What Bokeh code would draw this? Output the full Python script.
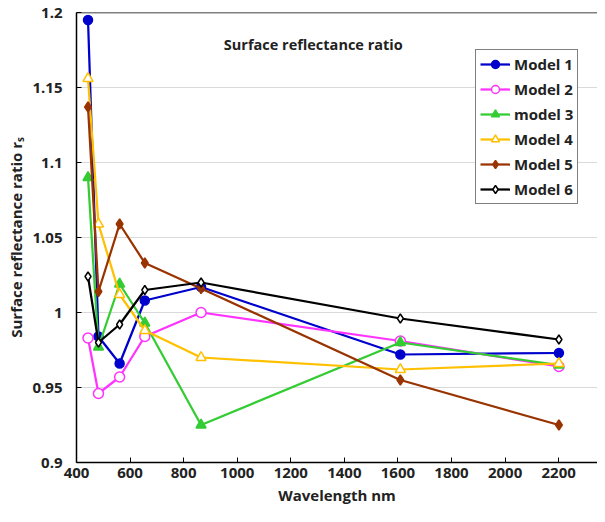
from bokeh.plotting import figure
from bokeh.models import Legend, LegendItem, FixedTicker, Span, Label, Range1d
from bokeh.embed import file_html
from bokeh.resources import INLINE

wavelength = [443, 482, 561, 655, 865, 1609, 2201]
model_1 = [1.195, 0.984, 0.966, 1.008, 1.017, 0.972, 0.973]
model_2 = [0.983, 0.946, 0.957, 0.984, 1.000, 0.981, 0.964]
model_3 = [1.090, 0.977, 1.019, 0.993, 0.925, 0.980, 0.965]
model_4 = [1.156, 1.059, 1.012, 0.988, 0.970, 0.962, 0.966]
model_5 = [1.137, 1.014, 1.059, 1.033, 1.016, 0.955, 0.925]
model_6 = [1.024, 0.980, 0.992, 1.015, 1.020, 0.996, 0.982]

series_names = ["Model 1", "Model 2", "model 3", "Model 4", "Model 5", "Model 6"]
series_values = [model_1, model_2, model_3, model_4, model_5, model_6]

x_ticks = [400, 600, 800, 1000, 1200, 1400, 1600, 1800, 2000, 2200]
y_ticks = [0.9, 0.95, 1.0, 1.05, 1.1, 1.15, 1.2]
y_tick_labels = ["0.9", "0.95", "1", "1.05", "1.1", "1.15", "1.2"]

FONT = "Open Sans"

styles = [
    dict(color="#0000CC", marker="circle", size=9, fill="#0000CC"),
    dict(color="#FF33FF", marker="circle", size=10, fill="white"),
    dict(color="#33CC33", marker="triangle", size=10, fill="#33CC33"),
    dict(color="#FFC000", marker="triangle", size=10, fill="white"),
    dict(color="#993300", marker="diamond", size=10, fill="#993300"),
    dict(color="#000000", marker="diamond", size=9, fill="white"),
]

p = figure(width=597, height=514, output_backend="svg", toolbar_location=None,
           x_range=Range1d(400, 2345), y_range=Range1d(0.9, 1.2),
           min_border_left=76, min_border_right=0, min_border_top=12, min_border_bottom=52)
p.outline_line_color = None
p.background_fill_color = "white"
p.xgrid.grid_line_color = None
p.ygrid.grid_line_color = "#D9D9D9"
p.ygrid.grid_line_width = 1

p.xaxis.ticker = FixedTicker(ticks=x_ticks)
p.yaxis.ticker = FixedTicker(ticks=y_ticks)
p.yaxis.major_label_overrides = {t: l for t, l in zip(y_ticks, y_tick_labels)}
for ax in (p.xaxis[0], p.yaxis[0]):
    ax.axis_line_color = "black"
    ax.axis_line_width = 1.5
    ax.major_tick_in = 5
    ax.major_tick_out = 0
    ax.minor_tick_line_color = None
    ax.major_tick_line_color = "black"
    ax.major_label_text_font = FONT
    ax.major_label_text_font_style = "bold"
    ax.major_label_text_font_size = "15px"
    ax.major_label_text_color = "#222222"
    ax.axis_label_text_font = FONT
    ax.axis_label_text_font_style = "bold"
    ax.axis_label_text_font_size = "15px"
    ax.axis_label_text_color = "#222222"
p.xaxis.axis_label = "Wavelength nm"
p.yaxis.axis_label = "Surface reflectance ratio rₛ"
p.xaxis.major_label_standoff = 5
p.yaxis.major_label_standoff = 14
p.xaxis.axis_label_standoff = 4
p.yaxis.axis_label_standoff = 3

p.add_layout(Span(location=1.2, dimension="width", line_color="black", line_width=1.5))

items = []
for name, vals, st in zip(series_names, series_values, styles):
    ln = p.line(wavelength, vals, line_color=st["color"], line_width=2.25)
    sc = p.scatter(wavelength, vals, marker=st["marker"], size=st["size"],
                   line_color=st["color"], fill_color=st["fill"], line_width=1.5)
    items.append(LegendItem(label=name, renderers=[ln, sc]))

legend = Legend(items=items, location=(399, 258))
legend.border_line_color = "black"
legend.border_line_width = 1
legend.label_text_font = FONT
legend.label_text_font_style = "bold"
legend.label_text_font_size = "15px"
legend.label_text_color = "#222222"
legend.glyph_width = 30
legend.glyph_height = 20
legend.label_height = 20
legend.spacing = 5
legend.padding = 4
legend.label_standoff = 4
legend.margin = 0
legend.background_fill_alpha = 1
p.add_layout(legend)

p.add_layout(Label(x=1284, y=1.179, text="Surface reflectance ratio", text_font=FONT,
                   text_font_style="bold", text_font_size="14.5px", text_color="#222222",
                   text_align="center", text_baseline="middle"))

open("out.html", "w").write(file_html(p, INLINE))
